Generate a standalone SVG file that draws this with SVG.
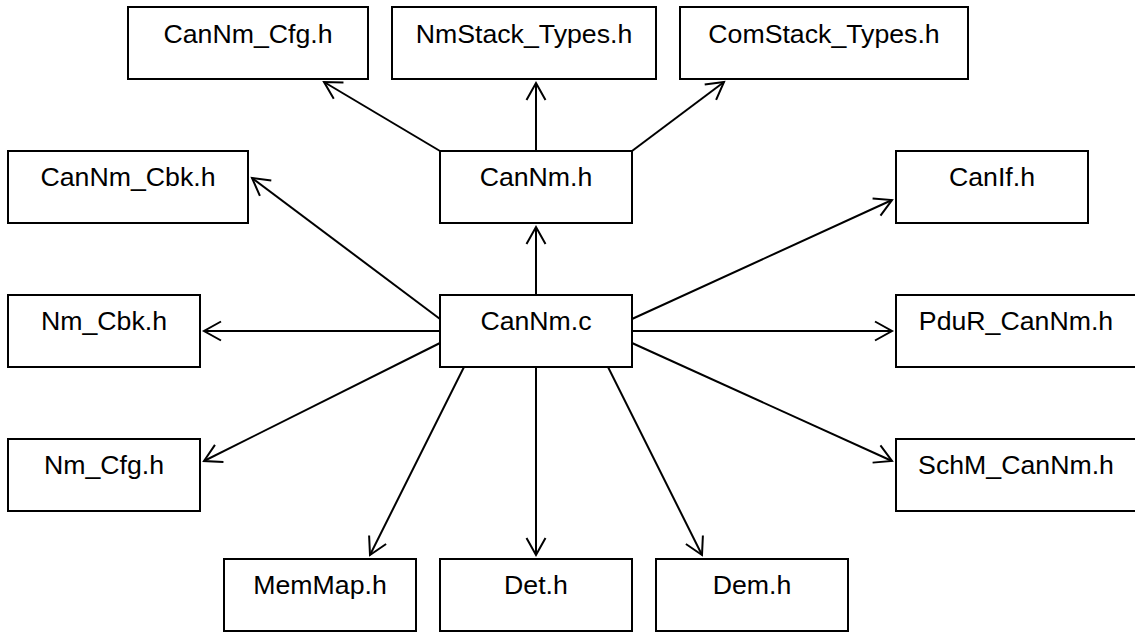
<svg xmlns="http://www.w3.org/2000/svg" width="1135" height="634" viewBox="0 0 1135 634">
<style>
.box{fill:#fff;stroke:#000;stroke-width:2}
.lbl{font-family:"Liberation Sans",Arial,sans-serif;font-size:26.7px;fill:#000;text-anchor:middle}
.con{stroke:#000;stroke-width:2;fill:none;marker-end:url(#arr)}
</style>
<defs>
<marker id="arr" markerUnits="userSpaceOnUse" orient="auto" refX="0" refY="0" markerWidth="40" markerHeight="40" viewBox="-20 -20 40 40" style="overflow:visible">
<path d="M-17,-9.5 L0,0 L-17,9.5" fill="none" stroke="#000" stroke-width="2"/>
</marker>
</defs>
<rect width="1135" height="634" fill="#fff"/>
<g id="connectors">
<line class="con" x1="536" y1="295" x2="536" y2="227"/>
<line class="con" x1="440" y1="151" x2="324" y2="82"/>
<line class="con" x1="536" y1="151" x2="536" y2="83"/>
<line class="con" x1="632" y1="151" x2="724" y2="82"/>
<line class="con" x1="440" y1="319" x2="252" y2="178"/>
<line class="con" x1="440" y1="331" x2="204" y2="331"/>
<line class="con" x1="440" y1="343" x2="204" y2="461"/>
<line class="con" x1="632" y1="319" x2="892" y2="200"/>
<line class="con" x1="632" y1="331" x2="892" y2="331"/>
<line class="con" x1="632" y1="343" x2="892" y2="461"/>
<line class="con" x1="464" y1="367" x2="370" y2="555"/>
<line class="con" x1="536" y1="367" x2="536" y2="555"/>
<line class="con" x1="608" y1="367" x2="702" y2="555"/>
</g>
<g id="cannm_cfg"><rect class="box" x="128" y="7" width="240" height="72"/><text class="lbl" x="248" y="43">CanNm_Cfg.h</text></g>
<g id="nmstack_types"><rect class="box" x="392" y="7" width="264" height="72"/><text class="lbl" x="524" y="43">NmStack_Types.h</text></g>
<g id="comstack_types"><rect class="box" x="680" y="7" width="288" height="72"/><text class="lbl" x="824" y="43">ComStack_Types.h</text></g>
<g id="cannm_h"><rect class="box" x="440" y="151" width="192" height="72"/><text class="lbl" x="536" y="186">CanNm.h</text></g>
<g id="cannm_c"><rect class="box" x="440" y="295" width="192" height="72"/><text class="lbl" x="536" y="330">CanNm.c</text></g>
<g id="cannm_cbk"><rect class="box" x="8" y="151" width="240" height="72"/><text class="lbl" x="128" y="186">CanNm_Cbk.h</text></g>
<g id="nm_cbk"><rect class="box" x="8" y="295" width="192" height="72"/><text class="lbl" x="104" y="330">Nm_Cbk.h</text></g>
<g id="nm_cfg"><rect class="box" x="8" y="439" width="192" height="72"/><text class="lbl" x="104" y="474">Nm_Cfg.h</text></g>
<g id="canif"><rect class="box" x="896" y="151" width="192" height="72"/><text class="lbl" x="992" y="186">CanIf.h</text></g>
<g id="pdur_cannm"><rect class="box" x="896" y="295" width="240" height="72"/><text class="lbl" x="1016" y="330">PduR_CanNm.h</text></g>
<g id="schm_cannm"><rect class="box" x="896" y="439" width="240" height="72"/><text class="lbl" x="1016" y="474">SchM_CanNm.h</text></g>
<g id="memmap"><rect class="box" x="224" y="559" width="192" height="72"/><text class="lbl" x="320" y="594">MemMap.h</text></g>
<g id="det"><rect class="box" x="440" y="559" width="192" height="72"/><text class="lbl" x="536" y="594">Det.h</text></g>
<g id="dem"><rect class="box" x="656" y="559" width="192" height="72"/><text class="lbl" x="752" y="594">Dem.h</text></g>
</svg>
